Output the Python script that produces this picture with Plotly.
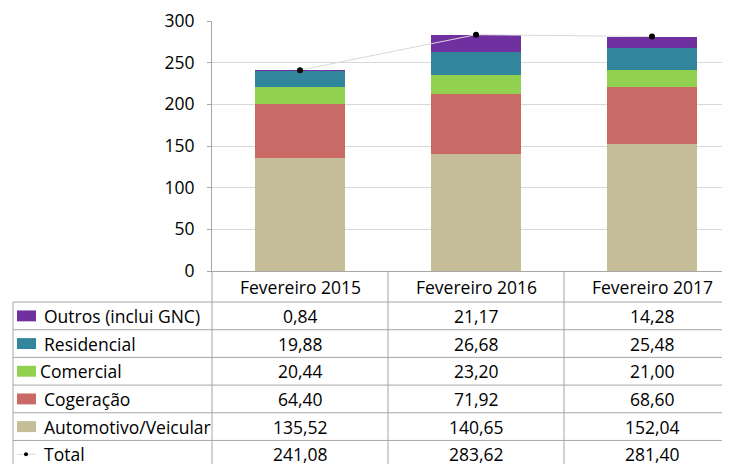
import plotly.graph_objects as go

# Dados do gráfico
periodos = ['Fevereiro 2015', 'Fevereiro 2016', 'Fevereiro 2017']
automotivo = [135.52, 140.65, 152.04]
cogeracao = [64.40, 71.92, 68.60]
comercial = [20.44, 23.20, 21.00]
residencial = [19.88, 26.68, 25.48]
outros = [0.84, 21.17, 14.28]
total = [241.08, 283.62, 281.40]
y_ticks = [0, 50, 100, 150, 200, 250, 300]

# Séries empilhadas (de baixo para cima)
series = [
    ('Automotivo/Veicular', automotivo, '#c4bd97'),
    ('Cogeração', cogeracao, '#c96a67'),
    ('Comercial', comercial, '#92d050'),
    ('Residencial', residencial, '#31859c'),
    ('Outros (inclui GNC)', outros, '#7030a0'),
]

# a página tem margem de 8px, então as posições abaixo já descontam esse deslocamento
OFF = 8
W, H = 740 - OFF, 472 - OFF
L, T, B = 212 - OFF, 19 - OFF, 271 - OFF     # limites da área do gráfico (pixels da figura)
X0, X1 = -0.5, 2.5
FONT = 'Open Sans'
FS = 17.5


def py(pix):
    """pixel vertical da tela -> coordenada paper"""
    return (B - (pix - OFF)) / (B - T)


def px(pix):
    """pixel horizontal da tela -> coordenada paper"""
    return ((pix - OFF) - L) / (W - L)


def cx(cat):
    """posição categórica -> coordenada paper"""
    return (cat - X0) / (X1 - X0)


fig = go.Figure()
for nome, valores, cor in series:
    fig.add_trace(go.Bar(
        x=periodos, y=valores, name=nome,
        marker=dict(color=cor, line=dict(width=0)),
        width=0.506, hoverinfo='y+name'
    ))

fig.add_trace(go.Scatter(
    x=periodos, y=total, name='Total', mode='lines+markers',
    line=dict(color='#d9d9d9', width=1),
    marker=dict(color='black', size=6)
))

# Tabela de dados abaixo do gráfico
linhas = [
    ('Outros (inclui GNC)', outros, '#7030a0'),
    ('Residencial', residencial, '#31859c'),
    ('Comercial', comercial, '#92d050'),
    ('Cogeração', cogeracao, '#c96a67'),
    ('Automotivo/Veicular', automotivo, '#c4bd97'),
    ('Total', total, None),
]
row_top = 302.3
row_h = 27.9
line_col = '#a6a6a6'
shapes = []
annotations = []
ppu = B - T  # pixels por unidade paper (vertical)

# cabeçalho
for i, p in enumerate(periodos):
    annotations.append(dict(x=i, xref='x', y=py(287), yref='paper', text=p,
                            showarrow=False, xanchor='center', yanchor='middle',
                            font=dict(family=FONT, size=FS, color='black')))

# linhas horizontais
for k in range(len(linhas)):
    yy = py(row_top + k * row_h)
    shapes.append(dict(type='line', xref='paper', yref='paper', x0=px(13), x1=1,
                       y0=yy, y1=yy, line=dict(color=line_col, width=1)))

# linhas verticais
shapes.append(dict(type='line', xref='paper', yref='paper', x0=px(13), x1=px(13),
                   y0=py(row_top), y1=py(480), line=dict(color=line_col, width=1)))
for c in [-0.5, 0.5, 1.5]:
    shapes.append(dict(type='line', xref='paper', yref='paper', x0=cx(c), x1=cx(c),
                       y0=0, y1=py(480), line=dict(color=line_col, width=1)))

for k, (nome, valores, cor) in enumerate(linhas):
    yc = py(row_top + (k + 0.5) * row_h)
    if cor:
        shapes.append(dict(type='rect', xref='paper', yref='paper',
                           x0=px(17), x1=px(36), y0=yc - 5.5 / ppu, y1=yc + 5.5 / ppu,
                           fillcolor=cor, line=dict(width=0)))
    else:
        shapes.append(dict(type='line', xref='paper', yref='paper', x0=px(17), x1=px(36),
                           y0=yc, y1=yc, line=dict(color='#d9d9d9', width=1)))
        shapes.append(dict(type='circle', xref='paper', yref='paper',
                           x0=px(24), x1=px(28), y0=yc - 2 / ppu, y1=yc + 2 / ppu,
                           fillcolor='black', line=dict(width=0)))
    x_txt = 38 if nome == 'Comercial' else 42
    annotations.append(dict(x=px(x_txt), xref='paper', y=yc, yref='paper', text=nome,
                            showarrow=False, xanchor='left', yanchor='middle',
                            font=dict(family=FONT, size=FS, color='black')))
    for i, v in enumerate(valores):
        annotations.append(dict(x=i, xref='x', y=yc, yref='paper',
                                text=f'{v:.2f}'.replace('.', ','),
                                showarrow=False, xanchor='center', yanchor='middle',
                                font=dict(family=FONT, size=FS, color='black')))

fig.update_layout(
    barmode='stack',
    width=W, height=H,
    margin=dict(l=L, r=0, t=T, b=H - B, pad=0),
    paper_bgcolor='white', plot_bgcolor='white',
    showlegend=False,
    font=dict(family=FONT, size=FS, color='black'),
    xaxis=dict(range=[X0, X1], showticklabels=False, showgrid=False,
               showline=True, linecolor=line_col, ticks=''),
    yaxis=dict(range=[0, 300.05], tickvals=y_ticks, showgrid=True, gridcolor='#d9d9d9',
               showline=True, linecolor=line_col, ticks='outside', ticklen=4,
               tickcolor=line_col, zeroline=False, ticklabelstandoff=9,
               ticklabeloverflow='allow'),
    shapes=shapes,
    annotations=annotations,
)

fig.write_html('out.html')
